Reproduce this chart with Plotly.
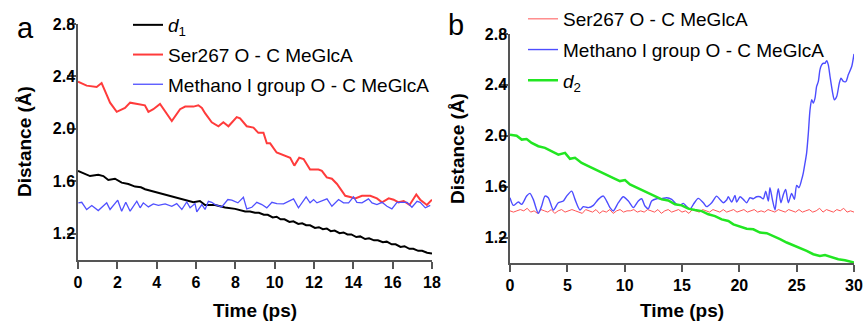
import plotly.graph_objects as go

# ---------------- Panel a data ----------------
a_d1_t = [0, 0.27, 0.61, 1.03, 1.29, 1.54, 1.88, 2.22, 2.56, 2.9, 3.2, 3.41, 3.92, 4.43, 4.94,
          5.45, 5.87, 6.2, 6.46, 6.97, 7.48, 7.99, 8.5, 8.75, 9.0, 9.2, 9.45, 9.65, 9.9, 10.1,
          10.3, 10.5, 10.75, 10.95, 11.2, 11.4, 11.6, 11.8, 12.05, 12.25, 12.45, 12.65, 12.85,
          13.05, 13.3, 13.5, 13.7, 13.9, 14.15, 14.35, 14.6, 14.8, 15.05, 15.25, 15.5, 15.7,
          15.95, 16.15, 16.4, 16.6, 16.85, 17.05, 17.3, 17.5, 17.75, 18.0]
a_d1_v = [1.68, 1.66, 1.64, 1.65, 1.64, 1.61, 1.62, 1.59, 1.58, 1.56, 1.555, 1.54, 1.52, 1.50, 1.48,
          1.46, 1.44, 1.45, 1.42, 1.42, 1.40, 1.39, 1.37, 1.37, 1.36, 1.36, 1.345, 1.345, 1.325, 1.33,
          1.31, 1.31, 1.29, 1.295, 1.275, 1.28, 1.265, 1.265, 1.245, 1.25, 1.235, 1.24, 1.22,
          1.225, 1.205, 1.21, 1.195, 1.195, 1.175, 1.18, 1.16, 1.165, 1.15, 1.15, 1.135, 1.14,
          1.12, 1.12, 1.10, 1.105, 1.085, 1.085, 1.07, 1.07, 1.055, 1.05]

a_ser_t = [0, 0.44, 0.95, 1.2, 1.46, 1.63, 1.97, 2.39, 2.65, 3.16, 3.4, 3.58, 3.83, 4.17, 4.51,
           4.77, 5.19, 5.45, 5.87, 6.12, 6.3, 6.46, 6.8, 7.14, 7.39, 7.65, 8.07, 8.24, 8.58, 8.92,
           9.17, 9.43, 9.6, 9.77, 10.1, 10.45, 10.79, 11.0, 11.25, 11.47, 11.8, 12.23, 12.4, 12.65,
           12.91, 13.17, 13.59, 13.84, 14.1, 14.44, 14.86, 15.2, 15.46, 15.8, 16.05, 16.3, 16.56,
           16.86, 17.2, 17.4, 17.74, 18.0]
a_ser_v = [2.36, 2.33, 2.32, 2.35, 2.26, 2.20, 2.13, 2.16, 2.20, 2.19, 2.18, 2.13, 2.15, 2.19, 2.12,
           2.06, 2.15, 2.17, 2.17, 2.18, 2.16, 2.12, 2.05, 2.02, 2.05, 2.02, 2.09, 2.08, 2.02, 2.01,
           1.97, 1.97, 1.89, 1.89, 1.82, 1.80, 1.78, 1.72, 1.78, 1.77, 1.69, 1.69, 1.68, 1.63,
           1.62, 1.58, 1.49, 1.48, 1.47, 1.49, 1.49, 1.47, 1.44, 1.47, 1.46, 1.44, 1.45,
           1.42, 1.50, 1.46, 1.42, 1.46]

a_meth_t = [0.02, 0.19, 0.44, 0.70, 1.03, 1.46, 1.63, 2.02, 2.22, 2.43, 2.65, 2.99, 3.16, 3.32,
            3.58, 3.83, 4.09, 4.43, 4.77, 5.02, 5.28, 5.53, 5.70, 5.95, 6.04, 6.30, 6.46, 6.63,
            6.80, 6.97, 7.31, 7.62, 7.82, 8.13, 8.41, 8.58, 8.84, 9.09, 9.35, 9.6, 9.86, 10.11,
            10.45, 10.7, 10.96, 11.21, 11.47, 11.6, 11.8, 11.98, 12.15, 12.4, 12.66, 12.91, 13.25,
            13.5, 13.76, 14.01, 14.18, 14.44, 14.77, 14.95, 15.2, 15.46, 15.71, 15.96, 16.22,
            16.47, 16.73, 16.98, 17.24, 17.4, 17.66, 17.91]
a_meth_v = [1.436, 1.44, 1.385, 1.415, 1.377, 1.436, 1.385, 1.456, 1.372, 1.44, 1.372, 1.448, 1.398, 1.436,
            1.405, 1.428, 1.417, 1.428, 1.41, 1.43, 1.385, 1.443, 1.398, 1.43, 1.367, 1.423, 1.385, 1.448,
            1.44, 1.423, 1.405, 1.461, 1.456, 1.436, 1.478, 1.39, 1.402, 1.44, 1.423, 1.398, 1.44, 1.43,
            1.428, 1.448, 1.466, 1.398, 1.448, 1.481, 1.436, 1.461, 1.436, 1.448, 1.466, 1.41, 1.461,
            1.436, 1.436, 1.481, 1.44, 1.436, 1.466, 1.436, 1.423, 1.44, 1.41, 1.39, 1.44,
            1.44, 1.44, 1.402, 1.448, 1.44, 1.398, 1.417]

# ---------------- Panel b data ----------------
b_ser_t = [round(0.3 * i, 1) for i in range(101)]
b_ser_v = [1.41, 1.40, 1.41, 1.42, 1.41, 1.43, 1.40, 1.41, 1.39, 1.42, 1.41, 1.40, 1.42, 1.39, 1.41, 1.42, 1.40, 1.41, 1.42, 1.41,
           1.40, 1.39, 1.42, 1.41, 1.40, 1.42, 1.39, 1.41, 1.40, 1.42, 1.39, 1.41, 1.42, 1.40, 1.41, 1.41, 1.42, 1.40, 1.41, 1.40,
           1.42, 1.41, 1.40, 1.42, 1.39, 1.41, 1.42, 1.40, 1.41, 1.42, 1.40, 1.41, 1.39, 1.42, 1.41, 1.40, 1.42, 1.41, 1.40, 1.42,
           1.41, 1.40, 1.42, 1.40, 1.41, 1.42, 1.40, 1.41, 1.42, 1.40, 1.41, 1.42, 1.40, 1.41, 1.40, 1.42, 1.41, 1.40, 1.42, 1.41,
           1.40, 1.42, 1.41, 1.40, 1.42, 1.40, 1.41, 1.42, 1.40, 1.41, 1.43, 1.40, 1.42, 1.41, 1.40, 1.42, 1.41, 1.43, 1.40, 1.41, 1.40]

b_meth_t = [0, 0.29, 0.73, 1.02, 1.45, 1.74, 2.03, 2.47, 2.76, 3.05, 3.34, 3.78, 4.21, 4.65, 4.94,
            5.38, 5.67, 6.10, 6.40, 6.83, 7.27, 7.70, 8.14, 8.43, 8.72, 9.01, 9.45, 9.88, 10.32,
            10.76, 11.19, 11.48, 11.77, 12.06, 12.35, 12.79, 13.23, 13.66, 14.10, 14.53, 14.83,
            15.12, 15.41, 15.70, 15.99, 16.42, 16.86, 17.15, 17.59, 18.02, 18.31, 18.60, 18.89,
            19.04, 19.33, 19.62, 19.77, 20.06, 20.35, 20.64, 20.93, 21.22, 21.51, 21.80, 22.09,
            22.30, 22.53, 22.67, 22.88, 23.11, 23.26, 23.40, 23.63, 23.84, 24.04, 24.27, 24.56,
            24.80, 25.0, 25.20, 25.44, 25.58, 25.73, 25.87, 26.02, 26.16, 26.31, 26.45, 26.60,
            26.74, 26.89, 27.03, 27.18, 27.32, 27.47, 27.62, 27.76, 27.91, 28.14, 28.28, 28.49,
            28.72, 28.87, 29.07, 29.30, 29.50, 29.80, 30.0]
b_meth_v = [1.513, 1.453, 1.479, 1.461, 1.526, 1.547, 1.50, 1.39, 1.448, 1.526, 1.513, 1.417, 1.474, 1.487, 1.526,
            1.565, 1.50, 1.417, 1.443, 1.435, 1.453, 1.50, 1.526, 1.487, 1.435, 1.409, 1.474, 1.521, 1.487,
            1.435, 1.487, 1.505, 1.448, 1.427, 1.487, 1.505, 1.505, 1.513, 1.50, 1.461, 1.453,
            1.469, 1.443, 1.422, 1.461, 1.508, 1.474, 1.443, 1.474, 1.526, 1.50, 1.474, 1.495,
            1.521, 1.479, 1.531, 1.479, 1.521, 1.50, 1.474, 1.513, 1.505, 1.521, 1.521, 1.505,
            1.565, 1.487, 1.592, 1.50, 1.417, 1.513, 1.584, 1.474, 1.539, 1.578, 1.474, 1.547,
            1.50, 1.61, 1.592, 1.657, 1.709, 1.787, 1.866, 2.022, 2.20, 2.283, 2.257, 2.296,
            2.388, 2.427, 2.518, 2.557, 2.570, 2.570, 2.591, 2.557, 2.466, 2.335, 2.283, 2.309,
            2.414, 2.453, 2.427, 2.427, 2.479, 2.544, 2.643]

b_d2_t = [0, 0.58, 1.02, 1.45, 1.89, 2.47, 3.05, 3.63, 4.22, 4.8, 5.23, 5.67, 6.25, 6.83, 7.41,
          7.99, 8.58, 9.16, 9.59, 10.03, 10.46, 11.05, 11.63, 12.21, 12.79, 13.23, 13.8, 14.39,
          14.97, 15.55, 16.13, 16.72, 17.3, 17.88, 18.46, 19.04, 19.48, 20.06, 20.64, 21.22, 21.8,
          22.39, 22.97, 23.55, 24.13, 24.71, 25.29, 25.87, 26.45, 27.03, 27.47, 28.05, 28.63,
          29.21, 30.0]
b_d2_v = [2.009, 2.001, 1.970, 1.975, 1.944, 1.918, 1.905, 1.879, 1.852, 1.866, 1.819, 1.827, 1.787, 1.761, 1.735,
          1.709, 1.683, 1.662, 1.644, 1.652, 1.618, 1.592, 1.565, 1.539, 1.513, 1.50, 1.492, 1.461,
          1.453, 1.427, 1.416, 1.408, 1.383, 1.369, 1.343, 1.330, 1.304, 1.286, 1.270, 1.265, 1.239,
          1.234, 1.213, 1.187, 1.161, 1.140, 1.122, 1.095, 1.069, 1.056, 1.062, 1.043, 1.030,
          1.022, 1.004]

a_xticks = [0, 2, 4, 6, 8, 10, 12, 14, 16, 18]
b_xticks = [0, 5, 10, 15, 20, 25, 30]
yticks = [1.2, 1.6, 2.0, 2.4, 2.8]

W, H = 867, 325
FONT = "Liberation Sans, Arial, sans-serif"
AXC = "#555555"

fig = go.Figure()
# panel a
fig.add_trace(go.Scatter(x=a_d1_t, y=a_d1_v, mode="lines", name="<i>d</i><sub>1</sub>",
                         line=dict(color="#000000", width=2), xaxis="x", yaxis="y",
                         legend="legend", legendgroup="a1"))
fig.add_trace(go.Scatter(x=a_ser_t, y=a_ser_v, mode="lines", name="Ser267 O - C MeGlcA",
                         line=dict(color="#ff3b3b", width=2), xaxis="x", yaxis="y",
                         legend="legend", legendgroup="a2"))
fig.add_trace(go.Scatter(x=a_meth_t, y=a_meth_v, mode="lines", name="Methano l group O - C MeGlcA",
                         line=dict(color="#5050ff", width=1.3), xaxis="x", yaxis="y",
                         legend="legend", legendgroup="a3"))
# panel b
fig.add_trace(go.Scatter(x=b_ser_t, y=b_ser_v, mode="lines", name="Ser267 O - C MeGlcA",
                         line=dict(color="#ff5555", width=1), xaxis="x2", yaxis="y2",
                         legend="legend2", legendgroup="b1"))
fig.add_trace(go.Scatter(x=b_meth_t, y=b_meth_v, mode="lines", name="Methano l group O - C MeGlcA",
                         line=dict(color="#4d4dff", width=1.4, shape="spline", smoothing=0.7),
                         xaxis="x2", yaxis="y2", legend="legend2", legendgroup="b2"))
fig.add_trace(go.Scatter(x=b_d2_t, y=b_d2_v, mode="lines", name="<i>d</i><sub>2</sub>",
                         line=dict(color="#22e622", width=2.5), xaxis="x2", yaxis="y2",
                         legend="legend2", legendgroup="b3"))

axis_common = dict(showline=True, linecolor=AXC, linewidth=1.5, ticks="outside",
                   tickwidth=1.5, tickcolor=AXC, showgrid=False, zeroline=False, automargin=False,
                   tickfont=dict(family=FONT, size=16, color="#000", weight="bold"))
xax = dict(ticklen=7, **axis_common)
yax = dict(ticklen=9, ticklabelstandoff=-11, **axis_common)

fig.update_layout(
    width=W, height=H, margin=dict(l=0, r=0, t=0, b=0, pad=0, autoexpand=False),
    paper_bgcolor="white", plot_bgcolor="white",
    xaxis=dict(domain=[78 / W, 432 / W], range=[0, 18], tickvals=a_xticks, anchor="y", **xax),
    yaxis=dict(domain=[1 - 260 / H, 1 - 24 / H], range=[1.0, 2.8], tickvals=yticks, tickformat=".1f",
               anchor="x", **yax),
    xaxis2=dict(domain=[510 / W, 854 / W], range=[0, 30], tickvals=b_xticks, anchor="y2", **xax),
    yaxis2=dict(domain=[1 - 263 / H, 1 - 34 / H], range=[1.0, 2.8], tickvals=yticks, tickformat=".1f",
                anchor="x2", **yax),
    legend=dict(x=128 / W, y=1 - 6 / H, xanchor="left", yanchor="top", bgcolor="rgba(0,0,0,0)",
                font=dict(family=FONT, size=19, color="#000"), tracegroupgap=2, traceorder="grouped"),
    legend2=dict(x=523 / W, y=1 + 0 / H, xanchor="left", yanchor="top", bgcolor="rgba(0,0,0,0)",
                 font=dict(family=FONT, size=19, color="#000"), tracegroupgap=3, traceorder="grouped"),
    showlegend=True,
)

ann_font_title = dict(family=FONT, size=19, color="#000", weight="bold")
common_ann = dict(xref="paper", yref="paper", showarrow=False, xanchor="center", yanchor="middle")
fig.add_annotation(text="a", x=25 / W, y=1 - 28 / H, font=dict(family=FONT, size=29, color="#000"), **common_ann)
fig.add_annotation(text="b", x=456 / W, y=1 - 25 / H, font=dict(family=FONT, size=29, color="#000"), **common_ann)
fig.add_annotation(text="Time (ps)", x=255 / W, y=1 - 310 / H, font=ann_font_title, **common_ann)
fig.add_annotation(text="Time (ps)", x=682 / W, y=1 - 310 / H, font=ann_font_title, **common_ann)
fig.add_annotation(text="Distance (Å)", x=24 / W, y=1 - 142 / H, textangle=-90, font=ann_font_title, **common_ann)
fig.add_annotation(text="Distance (Å)", x=457 / W, y=1 - 149 / H, textangle=-90, font=ann_font_title, **common_ann)

fig.write_html("out.html", post_script="document.body.style.margin='0';",
               config={"displayModeBar": False})
